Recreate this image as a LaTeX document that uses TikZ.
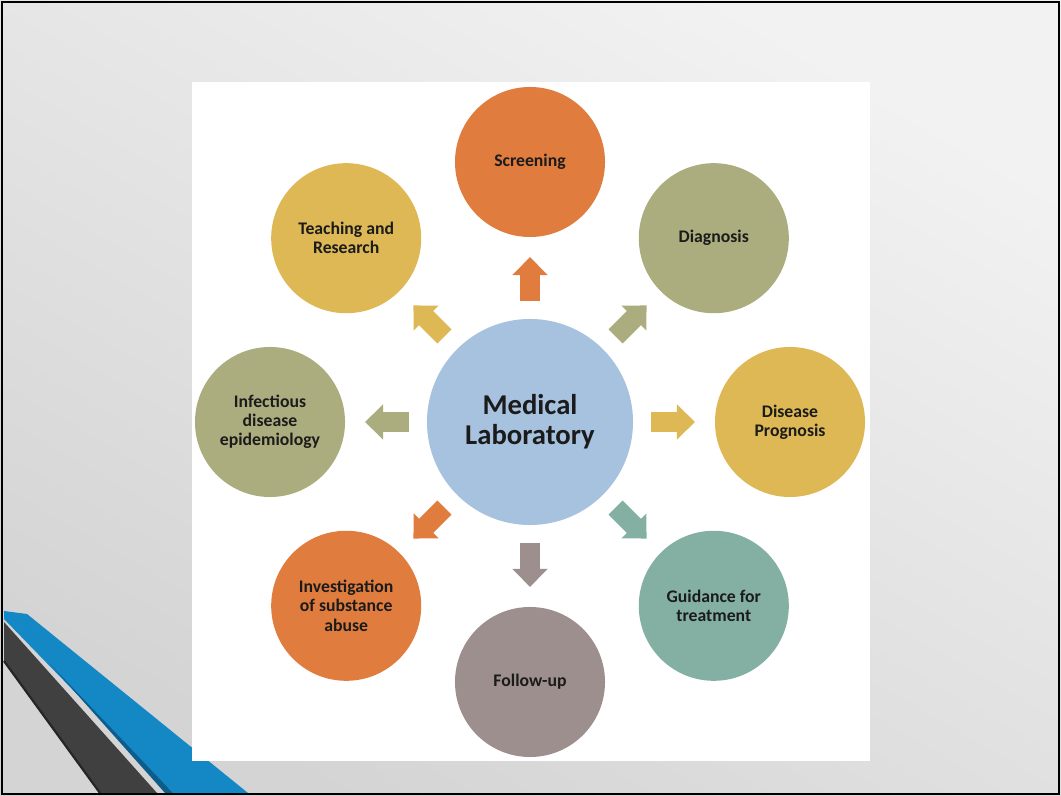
\documentclass[tikz,border=0pt]{standalone}
\usepackage{fontspec}
\setmainfont{Carlito}
\usepackage{tikz}
\usetikzlibrary{arrows.meta}

\definecolor{bgtop}{HTML}{F2F2F2}
\definecolor{bgbot}{HTML}{D4D4D4}
\definecolor{stripeblue}{HTML}{1487C5}
\definecolor{stripedark}{HTML}{0D5D8C}
\definecolor{stripegray}{HTML}{404040}
\definecolor{labblue}{HTML}{A7C2DE}
\definecolor{orangec}{HTML}{E07D3E}
\definecolor{yellowc}{HTML}{DDB855}
\definecolor{olivec}{HTML}{ACAD7E}
\definecolor{tealc}{HTML}{84B0A3}
\definecolor{mauvec}{HTML}{9D8F8E}
\definecolor{textc}{HTML}{1B1B1B}

\begin{document}
\begin{tikzpicture}[x=0.025cm,y=0.025cm,
  circ/.style={circle,inner sep=0pt,outer sep=0pt,minimum size=3.75cm,align=center,text=textc,
    font=\fontsize{12.6}{13.6}\selectfont\bfseries},
  blockarrow/.style={line width=0.5cm,shorten <=0.45cm,shorten >=0.5cm,
    -{Triangle[width=0.85cm,length=0.45cm]}}]
\useasboundingbox (0,0) rectangle (1061,796);
\shade[top color=bgtop,bottom color=bgbot,shading angle=-30] (0,0) rectangle (1061,796);

\fill[stripegray] (4,174)--(157,3)--(100,3)--(4,135)--cycle;
\draw[line width=1.6pt,black!85] (4,135)--(100,3);
\fill[stripeblue] (4,185)--(27,182)--(248,3)--(173,3)--(4,177)--cycle;
\fill[stripedark] (50,132)--(173,3)--(165,3)--cycle;

\fill[white] (192,35) rectangle (870,714);
\draw[line width=1.8pt,black] (2,2) rectangle (1059,794);

\node[circ,minimum size=5.15cm,fill=labblue,font=\fontsize{20.4}{21.6}\selectfont\bfseries] (lab) at (530,374) {Medical\\Laboratory};

\node[circ,fill=orangec] (scr) at (530,634) {Screening};
\node[circ,fill=olivec] (diag) at (713.8,557.8) {Diagnosis};
\node[circ,fill=yellowc] (prog) at (790,374) {Disease\\Prognosis};
\node[circ,fill=tealc] (guid) at (713.8,190.2) {Guidance for\\treatment};
\node[circ,fill=mauvec] (follow) at (530,114) {Follow-up};
\node[circ,fill=orangec] (subst) at (346.2,190.2) {Investigation\\of substance\\abuse};
\node[circ,fill=olivec] (infect) at (270,374) {Infectious\\disease\\epidemiology};
\node[circ,fill=yellowc] (teach) at (346.2,557.8) {Teaching and\\Research};

\draw[blockarrow,orangec] (lab)--(scr);
\draw[blockarrow,olivec] (lab)--(diag);
\draw[blockarrow,yellowc] (lab)--(prog);
\draw[blockarrow,tealc] (lab)--(guid);
\draw[blockarrow,mauvec] (lab)--(follow);
\draw[blockarrow,orangec] (lab)--(subst);
\draw[blockarrow,olivec] (lab)--(infect);
\draw[blockarrow,yellowc] (lab)--(teach);
\end{tikzpicture}
\end{document}
